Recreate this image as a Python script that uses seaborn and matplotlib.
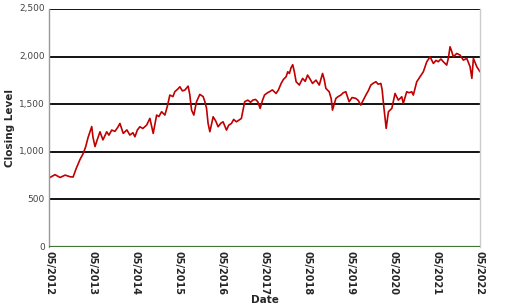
import matplotlib
matplotlib.use("Agg")
import matplotlib.pyplot as plt
import matplotlib.dates as mdates
from matplotlib.ticker import FuncFormatter
import pandas as pd
import seaborn as sns

dates = [
    "2012-05-01", "2012-06-21", "2012-08-03", "2012-09-15", "2012-10-26", "2012-11-21",
    "2012-12-16", "2013-01-19", "2013-02-14", "2013-03-07", "2013-03-28", "2013-04-28",
    "2013-05-09", "2013-05-26", "2013-06-12", "2013-07-07", "2013-08-01", "2013-09-02",
    "2013-09-21", "2013-10-14", "2013-11-11", "2013-12-06", "2013-12-23", "2014-01-20",
    "2014-02-20", "2014-03-17", "2014-04-12", "2014-04-29", "2014-05-20", "2014-06-10",
    "2014-07-05", "2014-08-06", "2014-09-03", "2014-10-01", "2014-10-30", "2014-11-18",
    "2014-12-11", "2015-01-08", "2015-01-29", "2015-02-19", "2015-03-17", "2015-04-02",
    "2015-04-28", "2015-05-15", "2015-06-05", "2015-06-26", "2015-07-24", "2015-08-07",
    "2015-08-22", "2015-09-10", "2015-10-03", "2015-10-31", "2015-11-28", "2015-12-12",
    "2015-12-27", "2016-01-09", "2016-01-24", "2016-02-21", "2016-03-15", "2016-04-03",
    "2016-04-26", "2016-05-15", "2016-06-13", "2016-07-02", "2016-07-25", "2016-08-13",
    "2016-09-05", "2016-10-17", "2016-11-14", "2016-12-11", "2017-01-03", "2017-01-22",
    "2017-02-14", "2017-03-05", "2017-03-25", "2017-04-14", "2017-05-01", "2017-05-26",
    "2017-06-12", "2017-07-07", "2017-08-07", "2017-08-27", "2017-09-19", "2017-10-08",
    "2017-10-31", "2017-11-14", "2017-11-28", "2017-12-11", "2017-12-26", "2018-01-09",
    "2018-01-24", "2018-02-20", "2018-03-20", "2018-04-11", "2018-05-01", "2018-05-24",
    "2018-06-12", "2018-07-11", "2018-08-08", "2018-09-05", "2018-09-19", "2018-10-03",
    "2018-10-31", "2018-11-17", "2018-11-28", "2018-12-27", "2019-01-15", "2019-02-07",
    "2019-02-27", "2019-03-21", "2019-04-18", "2019-05-13", "2019-06-14", "2019-07-04",
    "2019-07-26", "2019-08-15", "2019-09-07", "2019-09-27", "2019-10-19", "2019-11-08",
    "2019-12-01", "2019-12-20", "2020-01-12", "2020-01-23", "2020-02-06", "2020-02-26",
    "2020-03-16", "2020-04-14", "2020-05-11", "2020-06-08", "2020-07-07", "2020-07-20",
    "2020-08-18", "2020-09-07", "2020-09-29", "2020-10-13", "2020-11-11", "2020-12-09",
    "2021-01-06", "2021-02-04", "2021-03-04", "2021-04-01", "2021-04-23", "2021-05-12",
    "2021-06-04", "2021-06-24", "2021-07-23", "2021-08-07", "2021-08-20", "2021-09-02",
    "2021-09-17", "2021-10-16", "2021-11-13", "2021-12-11", "2022-01-09", "2022-02-06",
    "2022-02-21", "2022-03-06", "2022-04-04", "2022-05-01",
]
closing = [
    725, 760, 730, 755, 738, 735,
    820, 920, 980, 1050, 1150, 1265,
    1150, 1055, 1120, 1210, 1125, 1210,
    1175, 1228, 1215, 1260, 1298, 1193,
    1230, 1176, 1200, 1158, 1230, 1263,
    1245, 1280, 1351, 1193, 1386, 1370,
    1421, 1386, 1480, 1596, 1580, 1631,
    1660, 1683, 1640, 1648, 1690, 1600,
    1438, 1386, 1526, 1603, 1580, 1530,
    1456, 1298, 1211, 1368, 1320, 1263,
    1300, 1315, 1228, 1280, 1298, 1340,
    1315, 1350, 1526, 1543, 1520, 1543,
    1550, 1526, 1456, 1540, 1596, 1620,
    1631, 1650, 1613, 1650, 1718, 1760,
    1788, 1841, 1823, 1880, 1915, 1840,
    1736, 1701, 1771, 1740, 1806, 1760,
    1718, 1753, 1701, 1823, 1760, 1666,
    1631, 1560, 1438, 1561, 1580, 1596,
    1620, 1631, 1526, 1570, 1561, 1540,
    1491, 1540, 1596, 1640, 1701, 1720,
    1736, 1710, 1718, 1650, 1473, 1246,
    1421, 1456, 1613, 1543, 1578, 1508,
    1631, 1620, 1631, 1596, 1736, 1788,
    1841, 1946, 1998, 1928, 1960, 1946,
    1975, 1946, 1911, 1990, 2103, 2060,
    1998, 2033, 2016, 1963, 1981, 1893,
    1771, 1981, 1893, 1841,
]
y_ticks = [0, 500, 1000, 1500, 2000, 2500]
x_tick_dates = ["2012-05-01", "2013-05-01", "2014-05-01", "2015-05-01", "2016-05-01",
                "2017-05-01", "2018-05-01", "2019-05-01", "2020-05-01", "2021-05-01",
                "2022-05-01"]

df = pd.DataFrame({"Date": pd.to_datetime(dates), "Closing Level": closing})

sns.set_style("white")
plt.rcParams["font.family"] = ["DejaVu Sans"]

fig = plt.figure(figsize=(5.14, 3.06), dpi=100)
ax = fig.add_axes([49 / 514, 59 / 306, 431 / 514, 238 / 306])

for yv in y_ticks[1:]:
    ax.axhline(yv, color="black", lw=1.3, zorder=1)
ax.axhline(0, color="#3f7a35", lw=1.6, zorder=3)

sns.lineplot(data=df, x="Date", y="Closing Level", ax=ax, color="#c00000",
             lw=1.2, zorder=2)

ax.set_xlim(pd.Timestamp("2012-05-01"), pd.Timestamp("2022-05-01"))
ax.set_ylim(0, 2500)
ax.set_yticks(y_ticks)
ax.yaxis.set_major_formatter(FuncFormatter(lambda v, p: f"{int(v):,}"))
ax.set_xticks(pd.to_datetime(x_tick_dates))
ax.xaxis.set_major_formatter(mdates.DateFormatter("%m/%Y"))

ax.tick_params(axis="y", labelsize=6.5, labelcolor="#444444", length=0, pad=3)
ax.tick_params(axis="x", labelsize=7, length=0, pad=3)
for lbl in ax.get_xticklabels():
    lbl.set_rotation(-90)
    lbl.set_fontweight("bold")
    lbl.set_va("top")
    lbl.set_ha("center")
for lbl in ax.get_yticklabels():
    lbl.set_va("center")

ax.set_xlabel("Date", fontsize=7.5, fontweight="bold", labelpad=0)
ax.set_ylabel("Closing Level", fontsize=7.5, fontweight="bold", labelpad=3)

for s in ["top", "bottom"]:
    ax.spines[s].set_visible(False)
ax.spines["left"].set_color("#999999")
ax.spines["right"].set_color("#cccccc")
ax.spines["left"].set_linewidth(1)
ax.spines["right"].set_linewidth(1)

fig.savefig("out.png", dpi=100)
